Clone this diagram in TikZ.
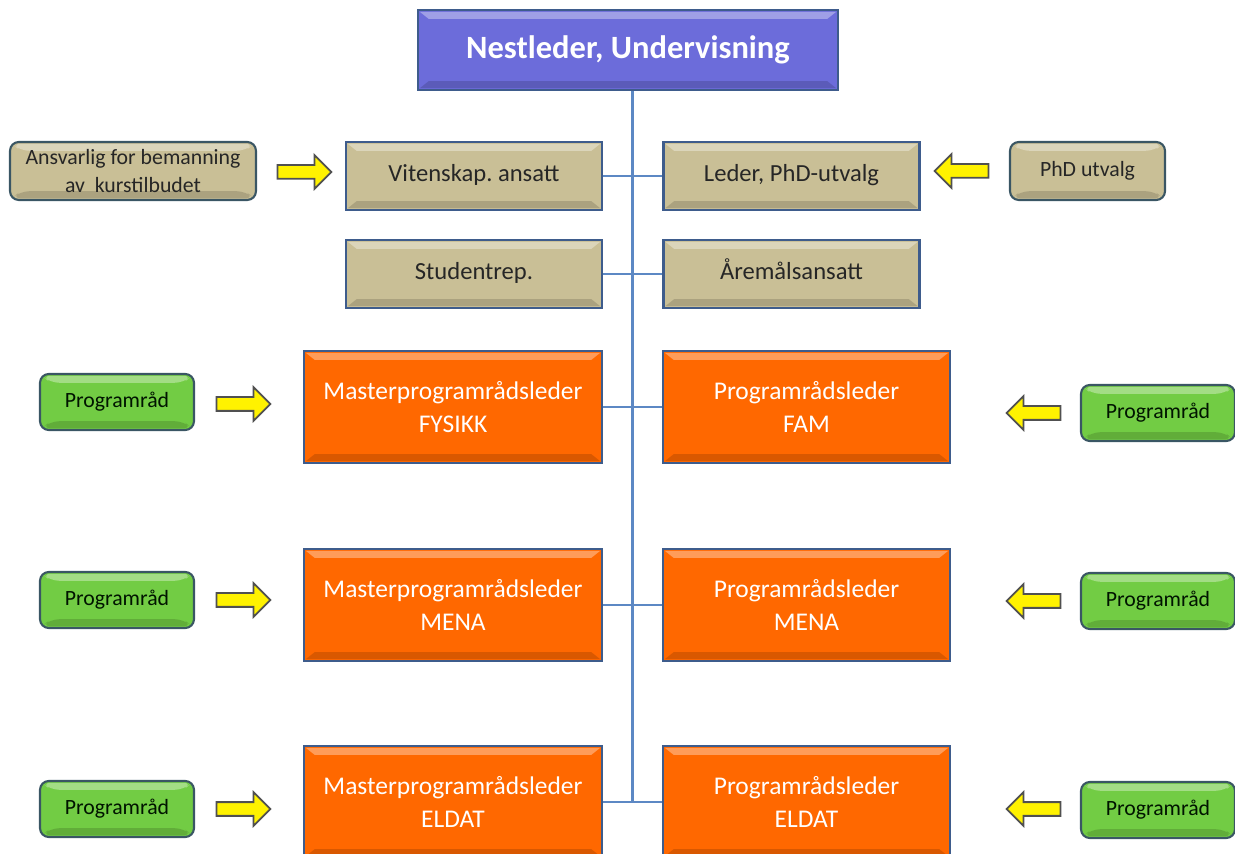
\documentclass[tikz,border=0pt]{standalone}
\usepackage{fontspec}
\setmainfont{Carlito}
\usetikzlibrary{calc,shapes.arrows}

\definecolor{lilla}{RGB}{108,108,218}
\definecolor{boksrand}{RGB}{62,92,140}
\definecolor{tanfyll}{RGB}{201,191,150}
\definecolor{oransjefyll}{RGB}{255,104,0}
\definecolor{gronnfyll}{RGB}{114,204,68}
\definecolor{gronnrand}{RGB}{58,86,100}
\definecolor{linjefarge}{RGB}{92,136,196}
\definecolor{pilrand}{RGB}{80,80,80}

\frenchspacing
\begin{document}
\begin{tikzpicture}[x=0.02cm, y=-0.02cm,
  every node/.style={align=center, inner sep=0pt},
  bevel/.style={path picture={
    \fill[white,opacity=.35]
      ([xshift=1pt,yshift=-1pt]path picture bounding box.north west) --
      ([xshift=-1pt,yshift=-1pt]path picture bounding box.north east) --
      ([xshift=-6pt,yshift=-5pt]path picture bounding box.north east) --
      ([xshift=6pt,yshift=-5pt]path picture bounding box.north west) -- cycle;
    \fill[black,opacity=.15]
      ([xshift=1pt,yshift=1pt]path picture bounding box.south west) --
      ([xshift=-1pt,yshift=1pt]path picture bounding box.south east) --
      ([xshift=-6pt,yshift=5pt]path picture bounding box.south east) --
      ([xshift=6pt,yshift=5pt]path picture bounding box.south west) -- cycle;}},
  boks/.style={rectangle, draw=boksrand, line width=1.2pt, bevel},
  tittel/.style={boks, fill=lilla, text=white, minimum width=8.4cm, minimum height=1.6cm,
    font=\fontsize{18.5}{22}\selectfont\bfseries},
  tan/.style={boks, fill=tanfyll, text=black!85, minimum width=5.12cm, minimum height=1.36cm,
    text height=2ex, text depth=.6ex, font=\fontsize{14}{17}\selectfont},
  oransje/.style={boks, fill=oransjefyll, text=white, minimum height=2.24cm,
    font=\fontsize{14.5}{19}\selectfont},
  rund/.style={rectangle, rounded corners=5pt, draw=gronnrand, line width=1.2pt, bevel,
    minimum height=1.12cm, font=\fontsize{12.4}{15.5}\selectfont},
  gronn/.style={rund, fill=gronnfyll, text=black!80!green!40!black, minimum width=3.08cm},
  pil/.style={single arrow, draw=pilrand, fill=yellow, line width=1pt,
    minimum height=1.08cm, inner xsep=0pt, inner ysep=0.12cm, single arrow head extend=0.2cm},
  vpil/.style={pil, shape border rotate=180},
  linje/.style={draw=linjefarge, line width=1.7pt}]

\useasboundingbox (0,0) rectangle (1235,854);

% toppen
\node[tittel] (topp) at (628,50) {Nestleder, Undervisning};

% stab
\node[tan] (vit) at (474,176) {Vitenskap. ansatt};
\node[tan] (phdleder) at (791.5,176) {Leder, PhD-utvalg};
\node[tan] (stud) at (474,274) {Studentrep.};
\node[tan] (aremal) at (791.5,274) {Åremålsansatt};

\node[rund, fill=tanfyll, text=black!85, minimum width=4.92cm, minimum height=1.16cm] (bemann) at (133,171)
  {Ansvarlig for bemanning\\av\ \ kurstilbudet};
\node[rund, fill=tanfyll, text=black!85, minimum width=3.1cm, minimum height=1.16cm] (phdutv) at (1087.5,171) {PhD utvalg};
\node[pil] (pilbemann) at (301,172) {};
\node[vpil] (pilphd) at (965,171) {};

% programledere
\node[oransje, minimum width=5.96cm] (mFys) at (453,407) {Masterprogramrådsleder\\FYSIKK};
\node[oransje, minimum width=5.74cm] (pFam) at (806.5,407) {Programrådsleder\\FAM};
\node[oransje, minimum width=5.96cm] (mMena) at (453,605) {Masterprogramrådsleder\\MENA};
\node[oransje, minimum width=5.74cm] (pMena) at (806.5,605) {Programrådsleder\\MENA};
\node[oransje, minimum width=5.96cm] (mEldat) at (453,802) {Masterprogramrådsleder\\ELDAT};
\node[oransje, minimum width=5.74cm] (pEldat) at (806.5,802) {Programrådsleder\\ELDAT};

% programråd
\node[gronn] (raadFys) at (117,402) {Programråd};
\node[gronn] (raadFam) at (1158,413) {Programråd};
\node[gronn] (raadMenaV) at (117,600) {Programråd};
\node[gronn] (raadMenaH) at (1158,601) {Programråd};
\node[gronn] (raadEldatV) at (117,809) {Programråd};
\node[gronn] (raadEldatH) at (1158,810) {Programråd};

\node[pil] (pil1) at (240,404) {};
\node[vpil] (pil2) at (1037,413) {};
\node[pil] (pil3) at (240,600) {};
\node[vpil] (pil4) at (1037,601) {};
\node[pil] (pil5) at (240,809) {};
\node[vpil] (pil6) at (1037,809) {};

% linjer
\coordinate (bunn) at ($(mEldat.east)!.5!(pEldat.west)$);
\draw[linje] (topp.south -| bunn) -- (bunn);
\draw[linje] (vit.east) -- (phdleder.west);
\draw[linje] (stud.east) -- (aremal.west);
\draw[linje] (mFys.east) -- (pFam.west);
\draw[linje] (mMena.east) -- (pMena.west);
\draw[linje] (mEldat.east) -- (pEldat.west);
\end{tikzpicture}
\end{document}
